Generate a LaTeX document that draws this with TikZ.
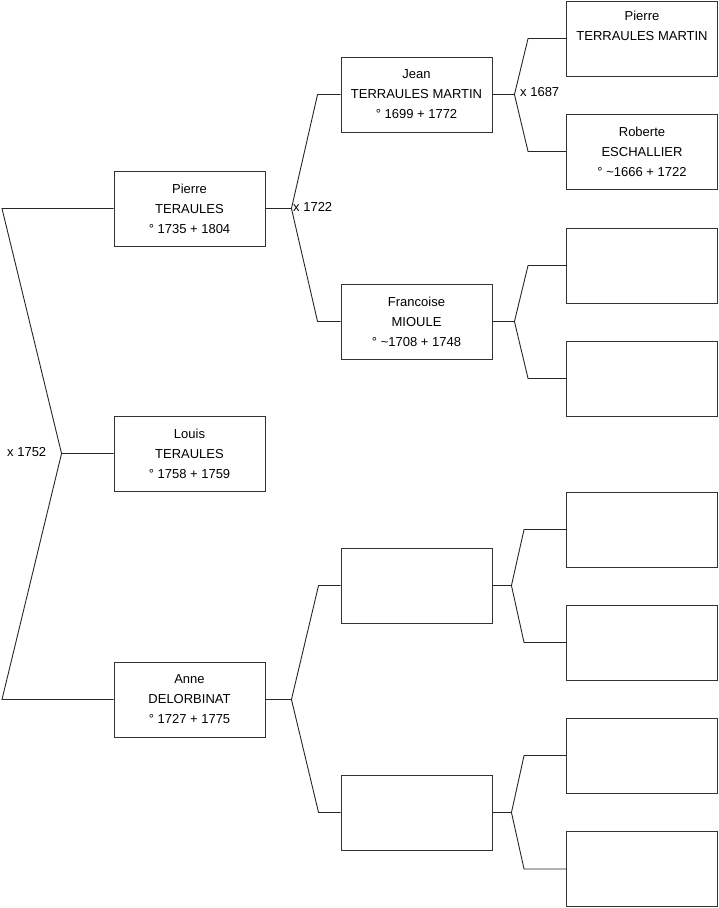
\documentclass[tikz,border=0pt]{standalone}
\usepackage{fontspec}
\setmainfont{Liberation Sans}
\usepackage{tikz}
\usetikzlibrary{positioning,calc}
% fork from a parent box to its two parents: #1 box, #2 upper, #3 lower, #4 stub, #5 knee
\newcommand{\fork}[5]{%
  \draw[link] (#1.east) -- ++(#4,0) coordinate (#1j)
    -- ([xshift=-#5pt]#2.west) -- (#2.west);
  \draw[link] (#1j) -- ([xshift=-#5pt]#3.west) -- (#3.west);}

\begin{document}
\begin{tikzpicture}[
  x=1pt, y=-1pt,
  font=\fontsize{13}{20}\selectfont,
  person/.style={draw=black!80, line width=0.9pt, fill=white, inner sep=0pt,
                 minimum width=151pt, minimum height=75pt, align=center},
  link/.style={draw=black!85, line width=0.9pt},
  marr/.style={anchor=west, inner sep=0pt},
]
\useasboundingbox (0,0) rectangle (719,908);

%====================== GENERATION 2 ======================
\node[person] (P) at (189.5,208.5) {Pierre\\TERAULES\\° 1735 + 1804};
\node[person] (L) at (189.5,453.5) {Louis\\TERAULES\\° 1758 + 1759};
\node[person] (A) at (189.5,699.5) {Anne\\DELORBINAT\\° 1727 + 1775};

%====================== GENERATION 3 ======================
\node[person] (J)  at (416.5,94.5)  {Jean\\TERRAULES MARTIN\\° 1699 + 1772};
\node[person] (F)  at (416.5,321.5) {Francoise\\MIOULE\\° \textasciitilde1708 + 1748};
\node[person] (G3) at (416.5,585.5) {};
\node[person] (G4) at (416.5,812.5) {};

%====================== GENERATION 4 ======================
\node[person] (PM) at (642,38.5)  {Pierre\\TERRAULES MARTIN\\\strut};
\node[person] (RE) at (642,151.5) {Roberte\\ESCHALLIER\\° \textasciitilde1666 + 1722};
\foreach \n/\y in {F1/265.5, F2/378.5, H1/529.5, H2/642.5, H3/755.5, H4/869}
  \node[person] (\n) at (642,\y) {};

%====================== ROOT BRACKET ======================
\coordinate (rt) at (2,208.5);
\coordinate (rb) at (2,699.5);
\draw[link] (L.west) -- ++(-52,0) coordinate (rj) -- (rt) -- (P.west);
\draw[link] (rj) -- (rb) -- (A.west);
\node[marr] (m1) at (7,452) {x 1752};

%====================== FORKS ======================
\fork{P}{J}{F}{26}{23}
\node[marr] (m2) at (293,207) {x 1722};
\fork{A}{G3}{G4}{26}{22}
\fork{J}{PM}{RE}{22}{38}
\node[marr] (m3) at (520,92) {x 1687};
\fork{F}{F1}{F2}{22}{38}
\fork{G3}{H1}{H2}{19}{42}
\fork{G4}{H3}{H4}{19}{42}
\end{tikzpicture}
\end{document}
